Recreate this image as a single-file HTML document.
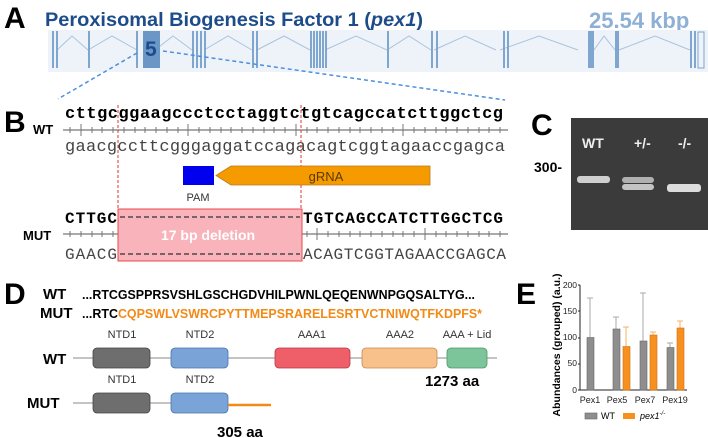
<!DOCTYPE html><html><head><meta charset="utf-8"><style>
html,body{margin:0;padding:0;background:#fff;width:708px;height:438px;overflow:hidden}
svg text{font-family:"Liberation Sans",sans-serif}
.m{font-family:"Liberation Mono",monospace}
</style></head><body>
<svg width="708" height="438" viewBox="0 0 708 438" xmlns="http://www.w3.org/2000/svg">
<!-- A -->
<text x="4" y="28" font-size="30" font-weight="bold">A</text>
<text x="45" y="26" font-size="19" fill="#1d4c8a" font-weight="bold" textLength="378" lengthAdjust="spacingAndGlyphs">Peroxisomal Biogenesis Factor 1 (<tspan font-style="italic">pex1</tspan>)</text>
<text x="589" y="28" font-size="22" fill="#8fb0d6" font-weight="bold">25.54 kbp</text>
<rect x="48" y="30" width="660" height="42" fill="#eef3f9"/>
<g stroke="#a9c3df" stroke-width="1" fill="none">
<polyline points="57,50 72,36 88,50 112,36 137,50"/>
<polyline points="155,50 173,36 192,50"/>
<polyline points="204,50 228,36 252,50"/>
<polyline points="257,50 284,36 310,50"/>
<polyline points="325,50 356,36 387,50 409,36 431,50"/>
<polyline points="434,50 465,36 496,50"/>
<polyline points="500,50 539,36 578,50"/>
<polyline points="594,50 604,36 615,50"/>
<polyline points="619,50 655,36 690,50"/>
</g>
<g fill="#7ea6cf">
<rect x="52" y="31" width="2" height="37"/><rect x="56" y="31" width="2" height="37"/>
<rect x="88" y="31" width="2" height="37"/>
<rect x="136" y="31" width="2" height="37"/>
<rect x="192" y="31" width="2" height="37"/><rect x="196" y="31" width="2" height="37"/><rect x="200" y="31" width="2" height="37"/><rect x="204" y="31" width="2" height="37"/>
<rect x="252" y="31" width="2" height="37"/><rect x="256" y="31" width="2" height="37"/>
<rect x="310" y="31" width="2" height="37"/><rect x="313" y="31" width="2" height="37"/><rect x="316" y="31" width="2" height="37"/><rect x="319" y="31" width="2" height="37"/><rect x="322" y="31" width="2" height="37"/><rect x="325" y="31" width="2" height="37"/>
<rect x="387" y="31" width="2" height="37"/>
<rect x="431" y="31" width="2" height="37"/><rect x="436" y="31" width="2" height="37"/>
<rect x="503" y="31" width="2" height="37"/><rect x="507" y="31" width="2" height="37"/>
<rect x="588" y="31" width="6" height="37"/>
<rect x="615" y="31" width="4" height="37"/>
<rect x="690" y="31" width="2" height="37"/><rect x="694" y="31" width="2" height="37"/>
</g>
<rect x="698" y="32" width="6" height="36" fill="none" stroke="#7ea6cf" stroke-width="1"/>
<rect x="143" y="31" width="17" height="37" fill="#6b97c6"/>
<text x="145" y="56" font-size="21" font-weight="bold" fill="#1d4c8a">5</text>
<g stroke="#4a90e2" stroke-width="1.5" stroke-dasharray="4,3">
<line x1="137" y1="53" x2="58" y2="99"/>
<line x1="163" y1="51" x2="505" y2="100"/>
</g>
<!-- B -->
<text x="4" y="132" font-size="30" font-weight="bold">B</text>
<text x="33" y="134" font-size="13" font-weight="bold">WT</text>
<text class="m" x="65" y="118" font-size="17" font-weight="bold" textLength="438" lengthAdjust="spacing">cttgcggaagccctcctaggtctgtcagccatcttggctcg</text>
<line x1="63" y1="130" x2="508" y2="130" stroke="#777" stroke-width="1.3"/>
<g stroke="#777" stroke-width="1">
<path d="M70,127v6M81,127v6M92,127v6M102,127v6M113,127v6M124,127v6M135,127v6M145,127v6M156,127v6M167,127v6M178,127v6M188,127v6M199,127v6M210,127v6M221,127v6M231,127v6M242,127v6M253,127v6M264,127v6M274,127v6M285,127v6M296,127v6M307,127v6M317,127v6M328,127v6M339,127v6M350,127v6M360,127v6M371,127v6M382,127v6M393,127v6M403,127v6M414,127v6M425,127v6M436,127v6M446,127v6M457,127v6M468,127v6M479,127v6M489,127v6M500,127v6"/>
<path d="M81,124v12M188,124v12M296,124v12M403,124v12"/>
</g>
<text class="m" x="65" y="151" font-size="17" fill="#444" textLength="440" lengthAdjust="spacing">gaacgccttcgggaggatccagacagtcggtagaaccgagca</text>
<g stroke="#e53030" stroke-width="1" stroke-dasharray="3,2">
<line x1="118" y1="105" x2="118" y2="210"/><line x1="301" y1="105" x2="301" y2="210"/>
</g>
<rect x="183" y="166" width="31" height="19" fill="#0000ee"/>
<polygon points="216,175.5 231,166 430,166 430,185 231,185" fill="#f59b00" stroke="#b87a20" stroke-width="0.8"/>
<text x="326" y="181" font-size="13" fill="#5a3a00" text-anchor="middle">gRNA</text>
<text x="198" y="201" font-size="11" fill="#333" text-anchor="middle">PAM</text>
<text x="23" y="240" font-size="13" font-weight="bold">MUT</text>
<rect x="118" y="209" width="184" height="52" fill="#f9b3bb" stroke="#e84a4a" stroke-width="1"/>
<text class="m" x="65" y="223" font-size="16" font-weight="bold" textLength="52" lengthAdjust="spacing">CTTGC</text>
<text class="m" x="303" y="223" font-size="16" font-weight="bold" textLength="200" lengthAdjust="spacing">TGTCAGCCATCTTGGCTCG</text>
<text class="m" x="65" y="259" font-size="16" fill="#444" textLength="52" lengthAdjust="spacing">GAACG</text>
<text class="m" x="303" y="259" font-size="16" fill="#444" textLength="203" lengthAdjust="spacing">ACAGTCGGTAGAACCGAGCA</text>
<g stroke="#333" stroke-width="1.3" stroke-dasharray="5,3">
<line x1="120" y1="217" x2="300" y2="217"/><line x1="120" y1="254" x2="300" y2="254"/>
</g>
<line x1="63" y1="234" x2="118" y2="234" stroke="#777" stroke-width="1.3"/>
<line x1="302" y1="234" x2="508" y2="234" stroke="#777" stroke-width="1.3"/>
<g stroke="#777" stroke-width="1"><path d="M70,231v6M81,231v6M92,231v6M102,231v6M113,231v6M307,231v6M317,231v6M328,231v6M339,231v6M350,231v6M360,231v6M371,231v6M382,231v6M393,231v6M403,231v6M414,231v6M425,231v6M436,231v6M446,231v6M457,231v6M468,231v6M479,231v6M489,231v6M500,231v6M317,228v12M425,228v12"/></g>
<text x="208" y="240" font-size="14" font-weight="bold" fill="#fff" text-anchor="middle">17 bp deletion</text>
<!-- C -->
<text x="531" y="135" font-size="30" font-weight="bold">C</text>
<rect x="571" y="118" width="137" height="112" fill="#3b3b3b"/>
<text x="582" y="148" font-size="14" font-weight="bold" fill="#eee">WT</text>
<text x="634" y="148" font-size="14" font-weight="bold" fill="#eee">+/-</text>
<text x="678" y="148" font-size="14" font-weight="bold" fill="#eee">-/-</text>
<text x="534" y="172" font-size="14" font-weight="bold">300-</text>
<rect x="577" y="176" width="33" height="7" rx="3" fill="#cfcfcf"/>
<rect x="622" y="177" width="32" height="6" rx="3" fill="#b0b0b0"/>
<rect x="622" y="184" width="32" height="6" rx="3" fill="#c4c4c4"/>
<rect x="667" y="184" width="34" height="8" rx="3" fill="#dcdcdc"/>
<!-- D -->
<text x="4" y="304" font-size="30" font-weight="bold">D</text>
<text x="43" y="299" font-size="15" font-weight="bold">WT</text>
<text x="82" y="299" font-size="12.5" font-weight="bold" textLength="393" lengthAdjust="spacingAndGlyphs">...RTCGSPPRSVSHLGSCHGDVHILPWNLQEQENWNPGQSALTYG...</text>
<text x="40" y="318" font-size="15" font-weight="bold">MUT</text>
<text x="82" y="318" font-size="12.5" font-weight="bold" textLength="400" lengthAdjust="spacingAndGlyphs">...RTC<tspan fill="#f28a16">CQPSWLVSWRCPYTTMEPSRARELESRTVCTNIWQTFKDPFS*</tspan></text>
<g font-size="11" fill="#333" text-anchor="middle">
<text x="122" y="338">NTD1</text><text x="200" y="338">NTD2</text><text x="312" y="338">AAA1</text><text x="400" y="338">AAA2</text><text x="467" y="338">AAA + Lid</text>
<text x="122" y="383">NTD1</text><text x="200" y="383">NTD2</text>
</g>
<text x="43" y="364" font-size="15" font-weight="bold">WT</text>
<line x1="73" y1="358" x2="497" y2="358" stroke="#888" stroke-width="1"/>
<g stroke-width="0.8">
<rect x="93" y="348" width="57" height="20" rx="4" fill="#6e6e6e" stroke="#444"/>
<rect x="171" y="348" width="57" height="20" rx="4" fill="#7aa3d8" stroke="#4a75aa"/>
<rect x="275" y="348" width="75" height="20" rx="4" fill="#ef5f6a" stroke="#b83a44"/>
<rect x="362" y="348" width="75" height="20" rx="4" fill="#f8c08a" stroke="#c88a50"/>
<rect x="447" y="348" width="40" height="20" rx="4" fill="#7cc49a" stroke="#4a9a6a"/>
</g>
<text x="425" y="386" font-size="15" font-weight="bold">1273 aa</text>
<text x="27" y="408" font-size="15" font-weight="bold">MUT</text>
<line x1="73" y1="403" x2="171" y2="403" stroke="#888" stroke-width="1"/>
<rect x="93" y="393" width="57" height="20" rx="4" fill="#6e6e6e" stroke="#444" stroke-width="0.8"/>
<rect x="171" y="393" width="57" height="20" rx="4" fill="#7aa3d8" stroke="#4a75aa" stroke-width="0.8"/>
<line x1="228" y1="405" x2="271" y2="405" stroke="#f28a16" stroke-width="2.5"/>
<text x="217" y="437" font-size="15" font-weight="bold">305 aa</text>
<!-- E -->
<text x="516" y="304" font-size="30" font-weight="bold">E</text>
<text transform="translate(560,345) rotate(-90)" font-size="10.5" font-weight="bold" text-anchor="middle">Abundances (grouped) (a.u.)</text>
<g font-size="8.5" text-anchor="end" fill="#222">
<text x="577" y="288">200</text><text x="577" y="314">150</text><text x="577" y="340">100</text><text x="577" y="366">50</text><text x="577" y="393">0</text>
</g>
<g stroke="#222" stroke-width="1">
<line x1="580" y1="285" x2="580" y2="390"/><line x1="580" y1="390" x2="687" y2="390"/>
<path d="M578,285h2M578,311h2M578,338h2M578,364h2M578,390h2"/>
</g>
<g stroke="#aaa" stroke-width="1">
<path d="M590,337v-39M587,298h6M616,329v-12M613,317h6M643,341v-48M640,293h6M670,348v-5M667,343h6"/>
</g>
<g stroke="#f5b060" stroke-width="1"><path d="M623,327h6M626,346v-19M650,332h6M653,335v-3M677,321h6M680,328v-7"/></g>
<g fill="#8e8e8e" stroke="#666" stroke-width="0.6">
<rect x="587" y="337.5" width="7" height="52.5"/><rect x="613" y="329" width="7" height="61"/><rect x="640" y="341" width="7" height="49"/><rect x="667" y="347.5" width="7" height="42.5"/>
</g>
<g fill="#f7901e" stroke="#d07010" stroke-width="0.6">
<rect x="623" y="346.5" width="7" height="43.5"/><rect x="650" y="335" width="7" height="55"/><rect x="677" y="328" width="7" height="62"/>
</g>
<g font-size="9" text-anchor="middle" fill="#222">
<text x="590" y="403">Pex1</text><text x="617" y="403">Pex5</text><text x="645" y="403">Pex7</text><text x="675" y="403">Pex19</text>
</g>
<rect x="585" y="413" width="12" height="6" fill="#8e8e8e" stroke="#666" stroke-width="0.6"/>
<text x="601" y="419" font-size="9">WT</text>
<rect x="623" y="413" width="12" height="6" fill="#f7901e"/>
<text x="640" y="419" font-size="9" font-style="italic">pex1<tspan font-size="6" dy="-4">-/-</tspan></text>
</svg>
</body></html>
